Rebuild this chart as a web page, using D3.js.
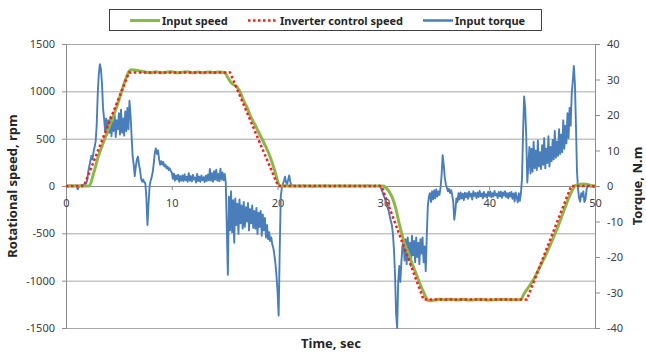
<!DOCTYPE html>
<html>
<head>
<meta charset="utf-8">
<script src="https://cdn.jsdelivr.net/npm/d3@7"></script>
<style>
  body { margin: 0; background: #fff; }
  svg { display: block; }
  text { font-family: "Noto Sans", sans-serif; }
</style>
</head>
<body>
<svg id="chart" width="646" height="354"></svg>
<script>
// Axis tick values
const speedTicks = [-1500, -1000, -500, 0, 500, 1000, 1500];
const torqueTicks = [-40, -30, -20, -10, 0, 10, 20, 30, 40];
const timeTicks = [0, 10, 20, 30, 40, 50];

const seriesNames = ["Input speed", "Inverter control speed", "Input torque"];

// Measured input shaft speed, [time s, rpm]
const inputSpeed = [
  [0, 0], [1, 0], [2.2, 0], [2.6, 130], [3.05, 310], [3.5, 450], [3.85, 556], [4.15, 645],
  [4.5, 750], [4.8, 840], [5.1, 943], [5.4, 1050], [5.75, 1160], [5.95, 1210], [6.2, 1228],
  [6.6, 1222], [7.0, 1215], [7.5, 1205], [8.0, 1196], [8.5, 1206], [9.0, 1195], [9.5, 1202],
  [10.0, 1207], [10.5, 1196], [11.0, 1201], [11.5, 1206], [12.0, 1195], [12.5, 1203],
  [13.0, 1197], [13.5, 1205], [14.0, 1198], [14.5, 1203], [15.0, 1197], [15.34, 1137],
  [15.66, 1084], [16.13, 1049], [16.45, 996], [16.76, 908], [17.08, 838], [17.39, 750],
  [17.87, 644], [18.34, 539], [18.81, 433], [19.29, 310], [19.76, 151], [20.07, 28],
  [20.23, 0], [25, 0], [30.0, 0], [30.3, -25], [30.6, -70], [30.9, -140], [31.2, -250],
  [31.5, -400], [31.8, -530], [32.0, -610], [32.3, -690], [32.8, -845], [33.1, -930],
  [33.45, -1030], [33.8, -1120], [34.15, -1200], [34.4, -1212], [34.8, -1206], [35.3, -1196],
  [35.8, -1203], [36.3, -1195], [36.8, -1204], [37.5, -1199], [38.2, -1205], [39.0, -1198],
  [40.0, -1203], [41.0, -1198], [42.0, -1202], [43.0, -1200], [43.23, -1151], [43.54, -1098],
  [43.86, -1046], [44.17, -993], [44.49, -923], [44.96, -817], [45.42, -711], [45.9, -588],
  [46.37, -465], [46.85, -324], [47.32, -183], [47.79, -60], [48.1, 0], [48.4, 15],
  [48.9, 20], [49.4, 14], [49.7, 0], [50, 0]
];

// Speed command from the inverter, [time s, rpm]
const controlSpeed = [
  [0, 0], [1.7, 0], [5.95, 1200], [15.5, 1200], [20.05, 0],
  [29.8, 0], [33.8, -1200], [43.55, -1200], [47.75, 0], [50, 0]
];

// Measured input torque in N.m, sampled every torqueStep seconds from t = 0
const torqueStep = 0.1;
const inputTorque = [
  0.1, 0.0, -0.2, 0.1, 0.2, 0.0, -0.1, 0.1, 0.0, 0.2,          // 0 s
  -0.2, -0.9, -0.4, 0.1, 0.2, 0.3, 0.2, 0.4, 0.5, 0.8,         // 1 s
  1.5, 4.0, 5.5, 7.0, 8.5, 7.5, 9.5, 11.0, 12.5, 17.0,         // 2 s
  26.0, 31.5, 34.3, 33.0, 29.0, 22.0, 19.0, 15.5, 19.0, 14.5,  // 3 s
  18.5, 15.0, 19.5, 14.0, 18.0, 15.5, 20.0, 13.8, 18.5, 16.0,  // 4 s
  20.5, 14.5, 21.5, 15.0, 19.0, 14.2, 21.0, 15.5, 22.0, 16.0,  // 5 s
  24.0, 20.0, 14.0, 8.5, 6.0, 2.8, 5.5, 7.5, 8.3, 6.0,         // 6 s
  4.5, 2.0, 1.2, 1.8, 1.0, 0.8, -3.5, -11.0, -5.0, 0.0,        // 7 s
  1.5, 2.5, 4.0, 6.5, 9.5, 10.6, 9.0, 10.0, 7.5, 6.0,          // 8 s
  7.0, 6.0, 6.8, 5.5, 6.0, 5.0, 5.5, 4.5, 5.0, 4.2,            // 9 s
  3.8, 2.0, 3.5, 1.5, 3.0, 1.8, 3.2, 1.2, 2.8, 1.5,            // 10 s
  3.0, 1.4, 3.3, 1.6, 2.6, 1.2, 3.6, 1.5, 2.8, 1.3,            // 11 s
  3.1, 1.8, 2.4, 1.0, 3.4, 1.4, 2.6, 1.2, 3.0, 1.6,            // 12 s
  2.5, 1.1, 2.9, 1.4, 3.2, 1.6, 4.8, 1.5, 3.6, 1.2,            // 13 s
  4.2, 1.8, 4.6, 1.5, 3.4, 1.3, 4.9, 1.8, 3.8, 1.6,            // 14 s
  3.4, 1.0, -12.0, -25.0, -3.0, -12.5, -1.5, -13.0, -4.0, -16.0,   // 15 s
  -3.5, -11.0, -5.0, -13.5, -3.8, -10.5, -5.5, -12.0, -4.5, -11.5, // 16 s
  -6.0, -10.0, -4.8, -12.5, -6.5, -10.5, -5.5, -11.8, -7.0, -12.0, // 17 s
  -6.2, -13.5, -7.5, -11.5, -7.0, -14.0, -8.0, -12.5, -9.0, -14.5, // 18 s
  -11.0, -15.0, -13.0, -15.5, -14.5, -16.5, -17.5, -19.5, -22.0, -25.5, // 19 s
  -30.0, -36.5, -18.0, -3.0, -0.5, 0.5, 1.5, 2.6, 1.0, 0.4,    // 20 s
  1.8, 3.0, 1.2, 0.3, 0.2, 0.0, 0.1, -0.1, 0.0, 0.1,           // 21 s
  0.0, 0.1, -0.1, 0.0, 0.2, 0.0, -0.1, 0.1, 0.0, -0.1,         // 22 s
  0.1, 0.0, 0.0, -0.2, 0.1, 0.0, 0.1, -0.1, 0.0, 0.1,          // 23 s
  0.0, -0.1, 0.1, 0.0, 0.0, 0.2, -0.1, 0.0, 0.1, 0.0,          // 24 s
  -0.1, 0.0, 0.1, 0.0, -0.1, 0.1, 0.0, 0.0, 0.2, 0.0,          // 25 s
  0.0, 0.1, -0.1, 0.0, 0.1, 0.0, -0.2, 0.0, 0.1, 0.0,          // 26 s
  0.1, 0.0, 0.0, -0.1, 0.1, 0.0, 0.0, 0.1, -0.1, 0.0,          // 27 s
  0.0, 0.1, 0.0, -0.1, 0.0, 0.2, 0.0, -0.1, 0.0, 0.1,          // 28 s
  0.0, -0.1, 0.1, 0.0, 0.0, -0.1, 0.1, 0.0, -0.8, -1.5,        // 29 s
  -2.5, -3.2, -4.0, -4.8, -6.2, -7.0, -8.5, -9.8, -11.0, -13.5,    // 30 s
  -18.0, -25.0, -36.0, -40.0, -27.0, -22.5, -27.0, -21.5, -17.0, -15.5, // 31 s
  -21.0, -15.0, -22.0, -14.5, -20.5, -16.0, -22.5, -14.0, -19.5, -15.5, // 32 s
  -21.5, -14.5, -20.0, -16.0, -22.0, -15.0, -19.0, -14.5, -21.5, -17.0, // 33 s
  -24.0, -14.0, -5.5, -3.0, -2.0, -4.5, -1.5, -3.8, -1.2, -3.5,    // 34 s
  -1.0, -3.0, -1.5, -2.5, -0.5, 3.0, 8.7, 6.0, 2.5, 0.5,       // 35 s
  -0.5, -1.5, -0.8, -2.0, -1.2, -2.5, -4.5, -9.5, -7.0, -3.5,  // 36 s
  -4.5, -2.0, -3.8, -1.8, -3.5, -2.2, -4.0, -1.9, -3.2, -2.0,  // 37 s
  -3.6, -1.6, -3.0, -2.2, -3.8, -1.5, -2.8, -2.0, -3.4, -1.8,  // 38 s
  -3.1, -1.4, -2.9, -2.1, -3.5, -1.7, -3.0, -2.3, -3.3, -1.6,  // 39 s
  -2.8, -1.5, -3.2, -2.0, -3.0, -1.4, -2.6, -2.2, -3.4, -1.7,  // 40 s
  -2.9, -1.6, -3.3, -1.8, -2.7, -1.5, -3.1, -2.0, -3.5, -1.9,  // 41 s
  -3.0, -1.7, -3.6, -2.1, -4.4, -1.8, -3.2, -4.6, -2.0, -4.2,  // 42 s
  -2.0, 2.0, 15.0, 25.2, 22.0, 14.0, 1.0, 6.0, 11.0, 3.5,      // 43 s
  10.5, 4.0, 12.5, 5.0, 10.0, 4.5, 12.8, 5.5, 9.5, 4.8,        // 44 s
  11.5, 6.0, 13.5, 5.0, 10.5, 6.5, 14.0, 5.5, 11.0, 7.0,       // 45 s
  13.0, 7.5, 15.5, 8.0, 12.5, 8.5, 16.0, 9.0, 14.5, 9.5,       // 46 s
  18.5, 10.5, 17.0, 12.0, 20.5, 13.5, 22.0, 17.0, 26.0, 29.5,  // 47 s
  33.8, 29.0, 17.0, 4.0, -1.0, -3.5, -4.4, -2.0, -3.0, -1.5,   // 48 s
  -4.5, -3.8, -1.0, 0.0, 0.2, 0.0, -0.2, 0.1, -0.1, -0.3,      // 49 s
  -0.3                                                         // 50 s
];

const svg = d3.select("#chart");
const plot = { left: 66, right: 595, top: 44, bottom: 328 };

const x = d3.scaleLinear().domain([0, 50]).range([plot.left, plot.right]);
const ySpeed = d3.scaleLinear().domain([-1500, 1500]).range([plot.bottom, plot.top]);
const yTorque = d3.scaleLinear().domain([-40, 40]).range([plot.bottom, plot.top]);

const gridColor = "#a6a6a6";
const axisColor = "#8c8c8c";
const labelColor = "#404040";
const plainNumber = d => String(d);   // plain integers with an ASCII hyphen for negatives

// Horizontal gridlines on the speed scale
svg.append("g")
  .attr("transform", `translate(${plot.left},0)`)
  .call(d3.axisLeft(ySpeed).tickValues(speedTicks).tickSize(-(plot.right - plot.left)).tickFormat(""))
  .call(g => g.select(".domain").remove())
  .call(g => g.selectAll("line").attr("stroke", gridColor));

// Left speed axis
svg.append("g")
  .attr("transform", `translate(${plot.left},0)`)
  .call(d3.axisLeft(ySpeed).tickValues(speedTicks).tickFormat(plainNumber)
    .tickSizeInner(4).tickSizeOuter(0).tickPadding(7))
  .call(g => g.select(".domain").attr("stroke", axisColor))
  .call(g => g.selectAll("line").attr("stroke", axisColor))
  .call(g => g.selectAll("text").attr("fill", labelColor).attr("font-size", 11).attr("font-family", "Noto Sans"));

// Right torque axis
svg.append("g")
  .attr("transform", `translate(${plot.right},0)`)
  .call(d3.axisRight(yTorque).tickValues(torqueTicks).tickFormat(plainNumber)
    .tickSizeInner(5).tickSizeOuter(0).tickPadding(7))
  .call(g => g.select(".domain").attr("stroke", axisColor))
  .call(g => g.selectAll("line").attr("stroke", axisColor))
  .call(g => g.selectAll("text").attr("fill", labelColor).attr("font-size", 11).attr("font-family", "Noto Sans"));

// Time axis crossing at zero speed
svg.append("g")
  .attr("transform", `translate(0,${ySpeed(0)})`)
  .call(d3.axisBottom(x).tickValues(timeTicks).tickFormat(plainNumber)
    .tickSizeInner(4).tickSizeOuter(0).tickPadding(9))
  .call(g => g.select(".domain").attr("stroke", axisColor))
  .call(g => g.selectAll("line").attr("stroke", axisColor))
  .call(g => g.selectAll("text").attr("fill", labelColor).attr("font-size", 11).attr("font-family", "Noto Sans"));

// Clip traces to the plot area
svg.append("defs").append("clipPath").attr("id", "plot-clip")
  .append("rect")
  .attr("x", plot.left).attr("y", plot.top - 2)
  .attr("width", plot.right - plot.left).attr("height", plot.bottom - plot.top + 3);

const traces = svg.append("g").attr("clip-path", "url(#plot-clip)");

const torqueLine = d3.line()
  .x((d, i) => x(i * torqueStep))
  .y(d => yTorque(d));

const colors = { input: "#8cb84a", control: "#ff1a1a", torque: "#4a7ebb" };

traces.append("path")
  .datum(inputTorque)
  .attr("d", torqueLine)
  .attr("fill", "none")
  .attr("stroke", colors.torque)
  .attr("stroke-width", 1.9)
  .attr("stroke-linejoin", "round");

traces.append("path")
  .datum(inputSpeed)
  .attr("d", d3.line().x(d => x(d[0])).y(d => ySpeed(d[1])).curve(d3.curveMonotoneX))
  .attr("fill", "none")
  .attr("stroke", colors.input)
  .attr("stroke-width", 3)
  .attr("stroke-linejoin", "round");

traces.append("path")
  .datum(controlSpeed)
  .attr("d", d3.line().x(d => x(d[0])).y(d => ySpeed(d[1])))
  .attr("fill", "none")
  .attr("stroke", colors.control)
  .attr("stroke-width", 2.5)
  .attr("stroke-dasharray", "2.5,2.5");

// Axis titles
svg.append("text")
  .attr("transform", `translate(17,${(plot.top + plot.bottom) / 2}) rotate(-90)`)
  .attr("text-anchor", "middle")
  .attr("font-size", 13).attr("font-weight", "bold").attr("fill", "#262626")
  .text("Rotational speed, rpm");

svg.append("text")
  .attr("transform", `translate(642,${(plot.top + plot.bottom) / 2}) rotate(-90)`)
  .attr("text-anchor", "middle")
  .attr("font-size", 13).attr("font-weight", "bold").attr("fill", "#262626")
  .text("Torque, N.m");

svg.append("text")
  .attr("x", 331).attr("y", 348)
  .attr("text-anchor", "middle")
  .attr("font-size", 13).attr("font-weight", "bold").attr("fill", "#262626")
  .text("Time, sec");

// Legend
const legend = svg.append("g");
legend.append("rect")
  .attr("x", 109.5).attr("y", 9.5).attr("width", 432).attr("height", 21)
  .attr("fill", "#fff").attr("stroke", "#404040");

const legendItems = [
  { name: seriesNames[0], x: 130, color: colors.input, width: 3, dash: null },
  { name: seriesNames[1], x: 248, color: colors.control, width: 2.5, dash: "2.5,2.5" },
  { name: seriesNames[2], x: 423, color: colors.torque, width: 2.5, dash: null }
];
legendItems.forEach(item => {
  legend.append("line")
    .attr("x1", item.x).attr("x2", item.x + 30)
    .attr("y1", 20.5).attr("y2", 20.5)
    .attr("stroke", item.color).attr("stroke-width", item.width)
    .attr("stroke-dasharray", item.dash);
  legend.append("text")
    .attr("x", item.x + 32).attr("y", 24.5)
    .attr("font-size", 11).attr("font-weight", "bold").attr("fill", "#262626")
    .text(item.name);
});
</script>
</body>
</html>
